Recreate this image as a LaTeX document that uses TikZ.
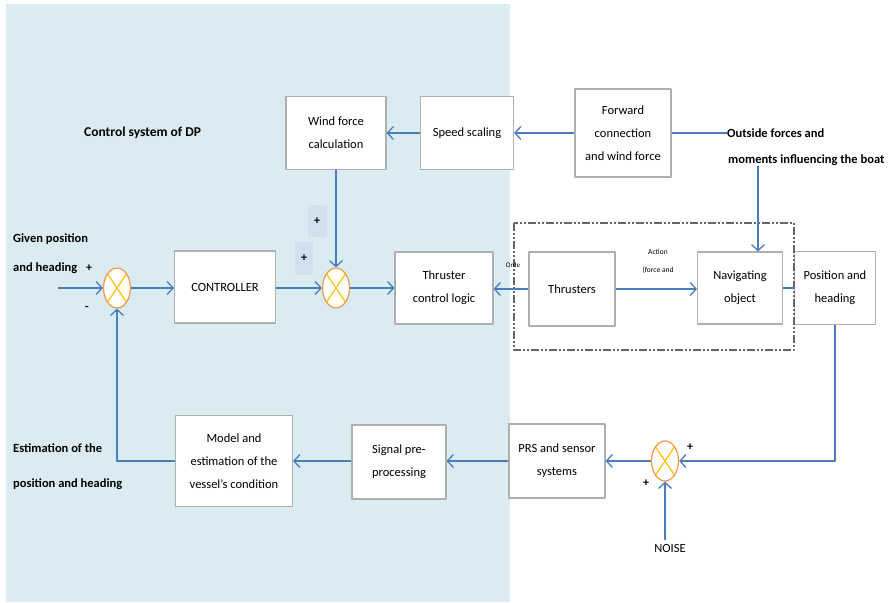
\documentclass[tikz,border=0pt]{standalone}
\usepackage{fontspec}
\setmainfont{Carlito}
\usetikzlibrary{arrows.meta,shapes.geometric}
\definecolor{bgblue}{RGB}{218,236,242}
\definecolor{plusbg}{RGB}{210,223,237}
\definecolor{lnblue}{RGB}{74,126,187}
\definecolor{sumorange}{RGB}{247,150,70}
\definecolor{sumyellow}{RGB}{255,192,0}
\definecolor{boxgray}{RGB}{175,175,175}
\begin{document}
\begin{tikzpicture}[x=1pt,y=-1pt,line join=round,
	>={Straight Barb[length=6pt,width=13pt]},
	blk/.style={draw=boxgray,line width=1.1pt,fill=white,align=center,inner sep=0pt,
		font=\fontsize{12.5}{23}\selectfont},
	lbl/.style={font=\bfseries\fontsize{12.5}{15}\selectfont,inner sep=0pt,align=left},
	sgn/.style={font=\bfseries\fontsize{12}{14}\selectfont,inner sep=1pt},
	summ/.style={ellipse,draw=sumorange,line width=1.2pt,fill=white,inner sep=0pt,
		minimum width=27pt,minimum height=40pt,
		path picture={\draw[sumyellow,line width=1.2pt]
			(path picture bounding box.north west)--(path picture bounding box.south east)
			(path picture bounding box.north east)--(path picture bounding box.south west);}},
	cn/.style={lnblue,line width=1.3pt},
	arr/.style={cn,->}]
	\useasboundingbox (0,0) rectangle (888,602);
	\fill[bgblue] (6,4) rectangle (510,602);
	% boxes
	\foreach\n/\x/\y/\w/\h/\t in {
		wind/336/133/100/73/{Wind force\\calculation},
		speed/467/133/93/73/{Speed scaling},
		fwd/623/133/96/88/{Forward\\connection\\and wind force},
		ctrl/225/287/101/72/{CONTROLLER},
		tcl/444/288/98/72/{Thruster\\control logic},
		thr/572/289/86/74/{Thrusters},
		nav/740/288/85/72/{Navigating\\object},
		pos/835/288/81/73/{Position and\\heading},
		prs/557/461/96/74/{PRS and sensor\\systems},
		sig/399/462/94/74/{Signal pre-\\processing},
		model/234/461/117/91/{Model and\\estimation of the\\vessel's condition}}
	{\node[blk,minimum width=\w,minimum height=\h] (\n) at (\x,\y) {\t};}
	% summing points
	\node[summ] (s1) at (117,288) {};
	\node[summ] (s2) at (336,288) {};
	\node[summ] (s3) at (665,461) {};
	% dash-dot frame
	\draw[black!60,line width=1.1pt,dash pattern=on 8pt off 2pt on 2pt off 2pt on 2pt off 2pt]
		(514,223) rectangle (794,350);
	% outer texts
	\node[lbl,anchor=west,font=\bfseries\fontsize{13.5}{16}\selectfont] (title) at (84,133) {Control system of DP};
	\node[lbl,anchor=west] (given) at (13,254) {Given position\\[14pt]and heading};
	\node[lbl,anchor=west] (est) at (13,467) {Estimation of the\\[20pt]position and heading};
	\node[lbl,anchor=west] (out1) at (727,133) {Outside forces and};
	\node[lbl,anchor=west] (out2) at (728,160) {moments influencing the boat};
	\node[font=\fontsize{12.5}{15}\selectfont] (noise) at (670,548) {NOISE};
	\node[font=\fontsize{7.5}{9}\selectfont] (act1) at (658,252) {Action};
	\node[font=\fontsize{7.5}{9}\selectfont] (act2) at (658,270) {(force and};
	\node[font=\fontsize{7}{9}\selectfont,inner sep=0pt] (orde) at (513,265) {Orde};
	% signs
	\foreach\p/\s in {{(89,268)}/+,{(87,308)}/-,{(690,447)}/+,{(646,483)}/+}
	{\node[sgn] at \p {\s};}
	\node[sgn,fill=plusbg,minimum width=19pt,minimum height=32pt] (p1) at (317,221) {+};
	\node[sgn,fill=plusbg,minimum width=18pt,minimum height=33pt] (p2) at (304,258) {+};
	% connectors
	\coordinate (in) at (58,288);
	\draw[arr] (in) -- (s1);
	\draw[arr] (s1) -- (s1 -| ctrl.west);
	\draw[arr] (s2 -| ctrl.east) -- (s2);
	\draw[arr] (s2) -- (tcl);
	\draw[arr] (wind) -- (s2);
	\draw[arr] (speed) -- (wind);
	\draw[arr] (fwd) -- (speed);
	\draw[cn] (out1.west) -- (fwd);
	\draw[arr] ([xshift=18pt]nav.north |- out2.south) -- ([xshift=18pt]nav.north);
	\draw[arr] (thr) -- (thr -| tcl.east);
	\draw[arr] (thr -| thr.east) -- (thr -| nav.west);
	\draw[cn] (nav) -- (pos);
	\draw[arr] (pos.south) |- (s3);
	\draw[arr] (s3) -- (prs);
	\draw[arr] (prs) -- (prs -| sig.east);
	\draw[arr] (model -| sig.west) -- (model);
	\draw[arr] (model.west) -| (s1.south);
	\draw[arr] (noise.north -| s3) -- (s3);
\end{tikzpicture}
\end{document}
